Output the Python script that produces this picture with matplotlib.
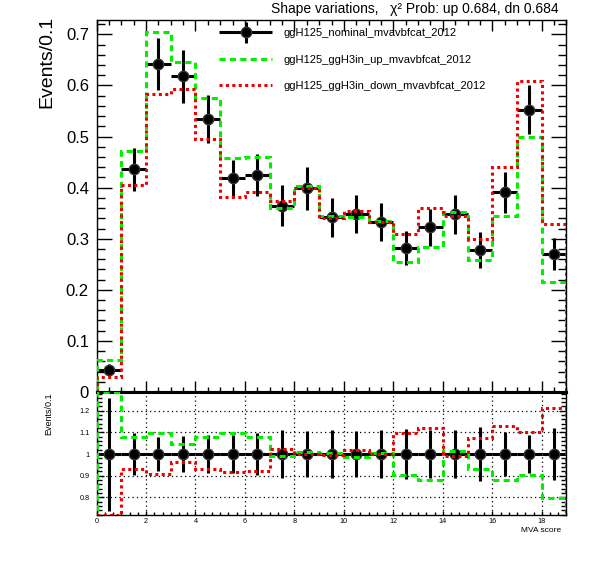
import numpy as np
import matplotlib
matplotlib.use("Agg")
import matplotlib.pyplot as plt
from matplotlib.ticker import MultipleLocator, FuncFormatter, FixedLocator
from matplotlib.legend_handler import HandlerErrorbar

plt.rcParams['font.family'] = ['Liberation Sans', 'DejaVu Sans']

# ---------------- data ----------------
bin_edges = list(range(0, 20))
nominal = [0.044, 0.436, 0.642, 0.618, 0.534, 0.418, 0.425, 0.365, 0.399, 0.342,
           0.348, 0.333, 0.282, 0.322, 0.348, 0.278, 0.391, 0.552, 0.270]
nominal_err = [0.0115, 0.042, 0.051, 0.0515, 0.047, 0.037, 0.041, 0.040, 0.042, 0.038,
               0.037, 0.0375, 0.033, 0.036, 0.038, 0.035, 0.040, 0.048, 0.032]
up = [0.0626, 0.471, 0.704, 0.646, 0.575, 0.458, 0.459, 0.361, 0.403, 0.344,
      0.343, 0.335, 0.254, 0.283, 0.353, 0.259, 0.344, 0.499, 0.215]
down = [0.029, 0.405, 0.583, 0.594, 0.496, 0.3825, 0.392, 0.373, 0.399, 0.340,
        0.355, 0.333, 0.310, 0.361, 0.345, 0.299, 0.441, 0.608, 0.328]
labels = ["ggH125_nominal_mvavbfcat_2012",
          "ggH125_ggH3in_up_mvavbfcat_2012",
          "ggH125_ggH3in_down_mvavbfcat_2012"]
title = "Shape variations,   \u03c7\u00b2 Prob: up 0.684, dn 0.684"
xlabel = "MVA score"
ylabel = "Events/0.1"

edges = np.array(bin_edges, dtype=float)
centers = 0.5 * (edges[:-1] + edges[1:])
halfw = 0.5 * np.diff(edges)
nom = np.array(nominal)
nerr = np.array(nominal_err)
upv = np.array(up)
dnv = np.array(down)

green = '#00ee00'
red = '#ee0000'
lw = 2.2
dash_g = (0, (2.0, 1.4))
dash_r = (0, (1.0, 1.1))

fig = plt.figure(figsize=(5.96, 5.72), dpi=100)
ax = fig.add_axes([0.162, 0.3147, 0.7885, 0.6498])
axr = fig.add_axes([0.162, 0.0997, 0.7885, 0.2150])

# ---------------- top panel ----------------
eb = ax.errorbar(centers, nom, xerr=halfw, yerr=nerr, fmt='o', color='black',
                 ms=7.5, mec='#333333', elinewidth=lw, capsize=0, zorder=3)
sg = ax.stairs(upv, edges, color=green, lw=lw, linestyle=dash_g, zorder=4)
sr = ax.stairs(dnv, edges, color=red, lw=lw, linestyle=dash_r, zorder=4)
ax.set_xlim(0, 19)
ax.set_ylim(0, 0.7275)
ax.xaxis.set_major_locator(MultipleLocator(2))
ax.xaxis.set_minor_locator(MultipleLocator(0.5))
ax.yaxis.set_major_locator(MultipleLocator(0.1))
ax.yaxis.set_minor_locator(MultipleLocator(0.02))
ax.yaxis.set_major_formatter(FuncFormatter(lambda v, p: '0' if abs(v) < 1e-9 else '%.1f' % v))
ax.tick_params(axis='both', which='both', direction='in', top=True, right=True, width=1)
ax.tick_params(axis='x', which='major', length=8, labelbottom=False)
ax.tick_params(axis='x', which='minor', length=3.8)
ax.tick_params(axis='y', which='major', length=11, labelsize=12, pad=5.5)
ax.tick_params(axis='y', which='minor', length=5.5)
for s in ax.spines.values():
    s.set_linewidth(1)
ax.spines['bottom'].set_linewidth(2.2)

fig.text(47 / 596, 1 - 62 / 572, ylabel, rotation=90, ha='center', va='center', fontsize=14)
fig.text(559 / 596, 1 - 9 / 572, title, ha='right', va='center', fontsize=10)

handles = [eb, sg, sr]
leg = ax.legend(handles, labels, loc='upper left', bbox_to_anchor=(219 / 596, 1 - 28 / 572),
                bbox_transform=fig.transFigure, frameon=False, fontsize=8,
                handlelength=4.8, handletextpad=1.0, labelspacing=1.5, borderpad=0,
                borderaxespad=0, numpoints=1,
                handler_map={type(eb): HandlerErrorbar(xerr_size=2.4, yerr_size=0.95)})

# ---------------- ratio panel ----------------
rlo, rhi = 0.718, 1.287
ratio_err = nerr / nom
ratio_up = np.clip(upv / nom, rlo, rhi)
ratio_dn = np.clip(dnv / nom, rlo, rhi)
axr.errorbar(centers, np.ones_like(nom), xerr=halfw, yerr=ratio_err, fmt='o', color='black',
             ms=7.5, mec='#333333', elinewidth=lw, capsize=0, zorder=3)
axr.stairs(ratio_up, edges, color=green, lw=lw, linestyle=dash_g, zorder=4)
axr.stairs(ratio_dn, edges, color=red, lw=lw, linestyle=dash_r, zorder=4)
axr.set_xlim(0, 19)
axr.set_ylim(rlo, rhi)
axr.xaxis.set_major_locator(MultipleLocator(2))
axr.xaxis.set_minor_locator(MultipleLocator(1 / 3))
axr.yaxis.set_major_locator(FixedLocator([0.8, 0.9, 1.0, 1.1, 1.2]))
axr.yaxis.set_minor_locator(MultipleLocator(0.02))
axr.yaxis.set_major_formatter(FuncFormatter(lambda v, p: '%g' % round(v, 2)))
axr.grid(True, which='major', color='black', linestyle=(0, (1, 2.5)), linewidth=0.9)
axr.tick_params(axis='both', which='both', direction='in', right=True, width=1,
                labelsize=5.2)
axr.tick_params(axis='x', which='major', length=3, pad=2)
axr.tick_params(axis='x', which='minor', length=2)
axr.tick_params(axis='y', which='major', length=5, pad=5)
axr.tick_params(axis='y', which='minor', length=3.5)
for s in axr.spines.values():
    s.set_linewidth(1)
axr.spines['top'].set_linewidth(2.2)

fig.text(48.5 / 596, 1 - 414 / 572, ylabel, rotation=90, ha='center', va='center', fontsize=6.5)
fig.text(561 / 596, 1 - 531 / 572, xlabel, ha='right', va='center', fontsize=6)

fig.savefig('out.png', dpi=100)
